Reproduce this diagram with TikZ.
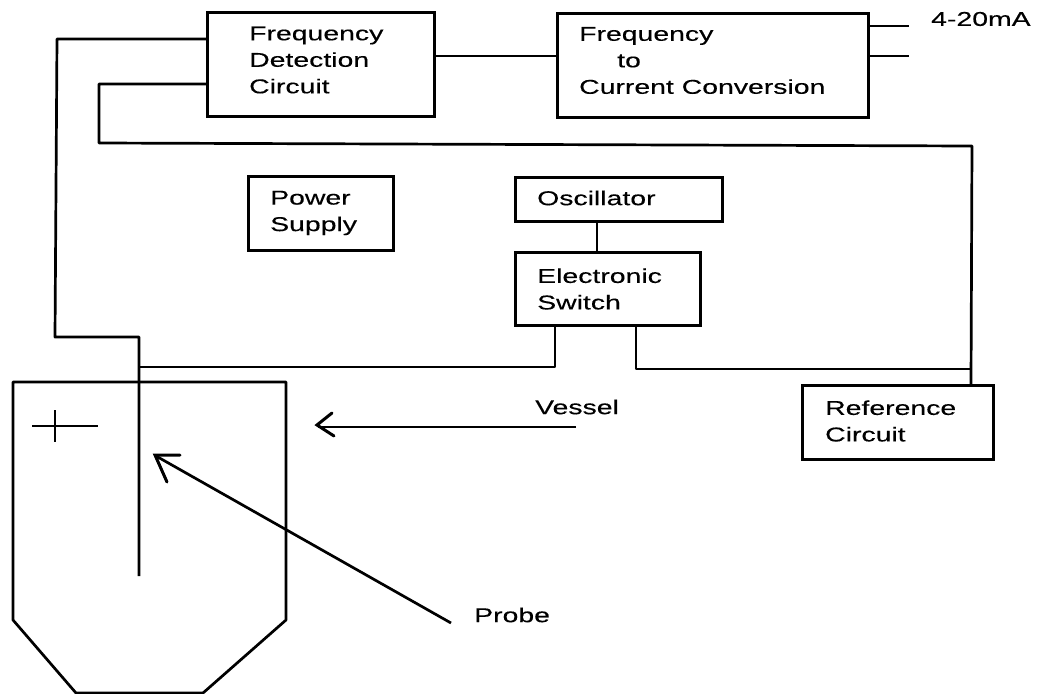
\documentclass[tikz,border=0pt]{standalone}
\usepackage{fontspec}
\setmainfont[FakeStretch=1.42,FakeBold=0.25]{Liberation Sans}
\tikzset{
 x=1pt,y=-1pt,
 wire/.style={line width=2.7pt,black,line join=round},
 box/.style={draw=black,line width=2.5pt,inner sep=0pt,anchor=north west},
 lbl/.style={font=\fontsize{20}{26.5}\selectfont,align=left,anchor=west,inner sep=0pt},
 barb/.style={line width=3pt,black,line cap=round,line join=miter}
}
\newcommand{\bx}[5]{\node[box,minimum width=#4pt,minimum height=#5pt] (#1) at (#2,#3) {};}
\begin{document}
\begin{tikzpicture}
\useasboundingbox (0,0) rectangle (1037,694);
\bx{fd}{206}{11}{227}{104}
\bx{fc}{556}{12}{311}{104}
\bx{ps}{247}{175}{145}{74}
\bx{osc}{514}{176}{207}{44}
\bx{sw}{514}{251}{185}{73}
\bx{rc}{801}{384}{191}{74}
\node[lbl] (t1) at (249,60) {Frequency\\Detection\\Circuit};
\node[lbl] (t2) at (579,60.5) {Frequency\\\hspace{38pt}to\\Current Conversion};
\node[lbl] (t3) at (270,213) {Power\\Supply};
\node[lbl] (t4) at (537,198) {Oscillator};
\node[lbl] (t5) at (537,289) {Electronic\\Switch};
\node[lbl] (t6) at (825,421) {Reference\\Circuit};
\node[lbl] (t7) at (931,19) {4-20mA};
\node[lbl] (t8) at (535,407) {Vessel};
\node[lbl] (t9) at (474,615) {Probe};
\coordinate (o1) at (909,26);\coordinate (o2) at (909,56);
\draw[wire] (fc.east |- o1)--(o1);
\draw[wire] (fc.east |- o2)--(o2);
\draw[wire] (fd.east |- o2)--(fc.west |- o2);
\coordinate (fd1) at (206,39);
\coordinate (fd2) at (206,84);
\coordinate (rcin) at (971,384);
\coordinate (pend) at (139,576);
\draw[wire] (fd1)--(57,39)--(55,337)--(139,337)--(pend);
\draw[wire] (fd2)--(99,84)--(99,143)--(972,146)--(rcin);
\draw[wire] (597,220)--(597,251);
\draw[wire] (139,367)--(555,367)--(555,324);
\draw[wire] (636,324)--(636,369)--(971,369);
\draw[wire] (13,382)--(286,382)--(286,620)--(203,693)--(76,693)--(13,620)--cycle;
\draw[wire] (32,426)--(98,426);
\draw[wire] (55,410)--(55,442);
\coordinate (a1) at (576,427);\coordinate (a2) at (318,427);
\draw[wire] (a1)--(a2);
\draw[barb] (332,413)--(317,425)--(334,436);
\coordinate (b1) at (451,623);\coordinate (b2) at (156,456);
\draw[wire] (b1)--(b2);
\draw[barb] (180,455)--(155,455)--(167,482);
\end{tikzpicture}
\end{document}
